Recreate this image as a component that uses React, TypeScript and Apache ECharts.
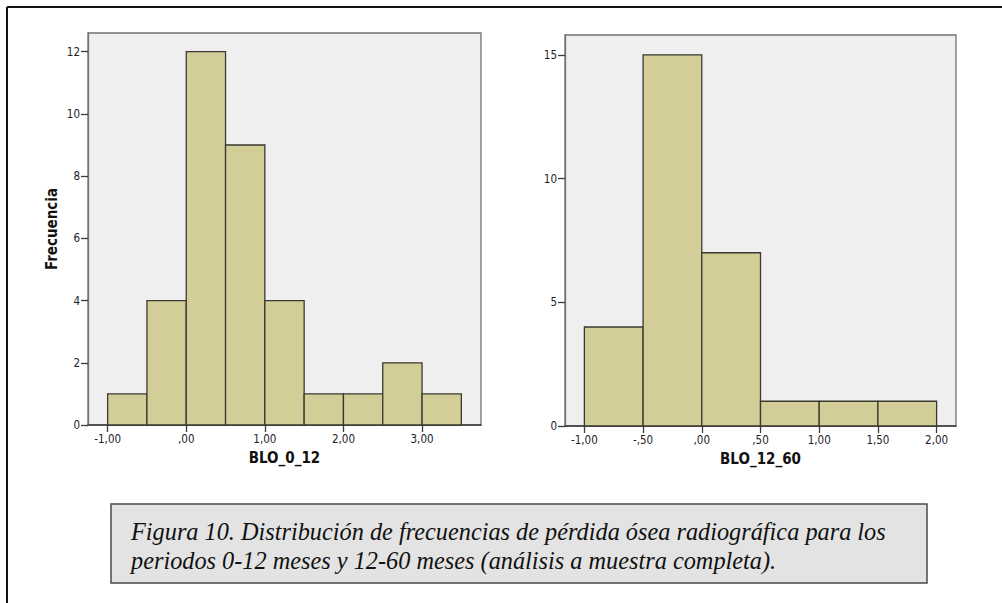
import React, { useEffect, useRef } from "react";
import * as echarts from "echarts";

// Left histogram: BLO_0_12
const binStartsA = [-1, -0.5, 0, 0.5, 1, 1.5, 2, 2.5, 3];
const countsA = [1, 4, 12, 9, 4, 1, 1, 2, 1];
const binWidthA = 0.5;
const xTicksA = [-1, 0, 1, 2, 3];
const yTicksA = [0, 2, 4, 6, 8, 10, 12];

// Right histogram: BLO_12_60
const binStartsB = [-1, -0.5, 0, 0.5, 1, 1.5];
const countsB = [4, 15, 7, 1, 1, 1];
const binWidthB = 0.5;
const xTicksB = [-1, -0.5, 0, 0.5, 1, 1.5, 2];
const yTicksB = [0, 5, 10, 15];

const xNameA = "BLO_0_12";
const xNameB = "BLO_12_60";
const yName = "Frecuencia";
const captionLines = [
  "Figura 10. Distribución de frecuencias de pérdida ósea radiográfica para los",
  "periodos 0-12 meses y 12-60 meses (análisis a muestra completa).",
];

const BAR_FILL = "#d3cd98";
const BAR_STROKE = "#3a3a30";
const PLOT_BG = "#efefef";
const FRAME = "#727272";
const TXT = "#1c1c2a";
const AXFONT = "'DejaVu Sans Condensed', 'DejaVu Sans', sans-serif";

function fmt(v: number): string {
  const s = v.toFixed(2).replace(".", ",");
  return s.replace(/^(-?)0,/, "$1,");
}

function histData(starts: number[], counts: number[], w: number) {
  return starts.map((s, i) => [s, s + w, counts[i]]);
}

const renderItem = (params: any, api: any) => {
  const s = api.value(0);
  const e = api.value(1);
  const c = api.value(2);
  const p0 = api.coord([s, c]);
  const p1 = api.coord([e, 0]);
  return {
    type: "rect",
    shape: { x: p0[0], y: p0[1], width: p1[0] - p0[0], height: p1[1] - p0[1] },
    style: { fill: BAR_FILL, stroke: BAR_STROKE, lineWidth: 1.3 },
  };
};

function xAxisCfg(gridIndex: number, min: number, max: number, ticks: number[], name: string) {
  return {
    type: "value",
    gridIndex,
    min,
    max,
    splitLine: { show: false },
    axisLine: { show: true, onZero: false, lineStyle: { color: "#3c3c3c", width: 1.5 } },
    axisTick: { show: true, length: 7, customValues: ticks, lineStyle: { color: "#3c3c3c", width: 1.3 } },
    axisLabel: {
      customValues: ticks,
      formatter: (v: number) => fmt(v),
      color: TXT,
      fontSize: 11.5,
      fontFamily: AXFONT,
      margin: 8,
    },
    name,
    nameLocation: "middle",
    nameGap: 25,
    nameTextStyle: { fontWeight: "bold", fontSize: 15, color: "#111", fontFamily: AXFONT },
  };
}

function yAxisCfg(gridIndex: number, max: number, ticks: number[], name?: string) {
  return {
    type: "value",
    gridIndex,
    min: 0,
    max,
    splitLine: { show: false },
    axisLine: { show: true, onZero: false, lineStyle: { color: FRAME, width: 1.3 } },
    axisTick: { show: true, length: 7, customValues: ticks, lineStyle: { color: "#3c3c3c", width: 1.3 } },
    axisLabel: {
      customValues: ticks,
      formatter: (v: number) => String(v),
      color: TXT,
      fontSize: 11.5,
      fontFamily: AXFONT,
      margin: 8,
    },
    name: name || "",
    nameLocation: "middle",
    nameGap: 29,
    nameTextStyle: { fontWeight: "bold", fontSize: 15, color: "#111", fontFamily: AXFONT },
  };
}

export default function App() {
  const ref = useRef<HTMLDivElement>(null);
  useEffect(() => {
    if (!ref.current) return;
    const chart = echarts.init(ref.current, undefined, { renderer: "svg" });
    chart.setOption({
      animation: false,
      backgroundColor: "#ffffff",
      grid: [
        { left: 88, top: 33, width: 393, height: 392, show: true, backgroundColor: PLOT_BG, borderColor: FRAME, borderWidth: 1.3 },
        { left: 565, top: 35, width: 391, height: 391, show: true, backgroundColor: PLOT_BG, borderColor: FRAME, borderWidth: 1.3 },
      ],
      xAxis: [
        xAxisCfg(0, -1.25, 3.75, xTicksA, xNameA),
        xAxisCfg(1, -1.165, 2.165, xTicksB, xNameB),
      ],
      yAxis: [yAxisCfg(0, 12.6, yTicksA, yName), yAxisCfg(1, 15.8, yTicksB)],
      series: [
        {
          type: "custom",
          xAxisIndex: 0,
          yAxisIndex: 0,
          renderItem,
          encode: { x: [0, 1], y: 2 },
          data: histData(binStartsA, countsA, binWidthA),
        },
        {
          type: "custom",
          xAxisIndex: 1,
          yAxisIndex: 1,
          renderItem,
          encode: { x: [0, 1], y: 2 },
          data: histData(binStartsB, countsB, binWidthB),
        },
      ],
      graphic: [
        { type: "line", shape: { x1: 7, y1: 7, x2: 1002, y2: 7 }, style: { stroke: "#111", lineWidth: 2 } },
        { type: "line", shape: { x1: 7, y1: 7, x2: 7, y2: 603 }, style: { stroke: "#111", lineWidth: 2 } },
        {
          type: "rect",
          shape: { x: 111, y: 504, width: 816, height: 79 },
          style: { fill: "#e3e3e3", stroke: "#4a4a4a", lineWidth: 1.5 },
        },
        {
          type: "text",
          x: 131,
          y: 531,
          style: {
            text: captionLines[0],
            fontFamily: "'Liberation Serif', serif",
            fontStyle: "italic",
            fontSize: 24.3,
            fill: "#111",
            verticalAlign: "middle",
          },
        },
        {
          type: "text",
          x: 131,
          y: 560,
          style: {
            text: captionLines[1],
            fontFamily: "'Liberation Serif', serif",
            fontStyle: "italic",
            fontSize: 24.3,
            fill: "#111",
            verticalAlign: "middle",
          },
        },
      ],
    });
    return () => chart.dispose();
  }, []);
  return (
    <div
      ref={ref}
      style={{ position: "fixed", left: 0, top: 0, width: 1002, height: 603 }}
    />
  );
}
